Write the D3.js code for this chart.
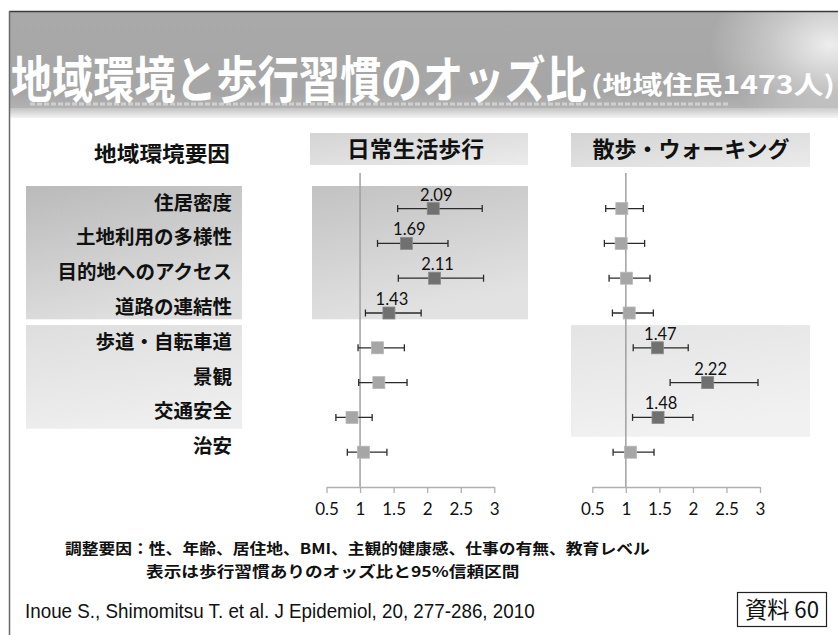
<!DOCTYPE html>
<html>
<head>
<meta charset="utf-8">
<script src="https://cdn.jsdelivr.net/npm/d3@7"></script>
<style>
  html, body { margin: 0; padding: 0; background: #fff; }
  svg { display: block; }
</style>
</head>
<body>
<svg id="chart" width="838" height="635"></svg>
<script>
// Environmental factors (rows, top to bottom)
const factors = ["住居密度", "土地利用の多様性", "目的地へのアクセス", "道路の連結性",
                 "歩道・自転車道", "景観", "交通安全", "治安"];

// Daily-life walking: odds ratio and 95% CI
const dailyOR = [2.09, 1.69, 2.11, 1.43, 1.26, 1.28, 0.88, 1.05];
const dailyLo = [1.56, 1.26, 1.57, 1.08, 0.97, 0.98, 0.64, 0.81];
const dailyHi = [2.82, 2.31, 2.84, 1.91, 1.66, 1.70, 1.18, 1.40];
const dailySig = [true, true, true, true, false, false, false, false];

// Recreational walking: odds ratio and 95% CI
const walkOR = [0.94, 0.93, 1.01, 1.05, 1.47, 2.22, 1.48, 1.07];
const walkLo = [0.70, 0.68, 0.75, 0.80, 1.11, 1.66, 1.10, 0.81];
const walkHi = [1.26, 1.28, 1.36, 1.41, 1.93, 2.97, 2.00, 1.42];
const walkSig = [false, false, false, false, true, true, true, false];

const tickValues = [0.5, 1, 1.5, 2, 2.5, 3];
const tickLabels = ["0.5", "1", "1.5", "2", "2.5", "3"];

const JP = "'Noto Sans CJK JP', 'Noto Sans CJK SC', sans-serif";
const svg = d3.select("#chart");
const defs = svg.append("defs");

function linGrad(id, x1, y1, x2, y2, stops) {
  const g = defs.append("linearGradient").attr("id", id)
    .attr("x1", x1).attr("y1", y1).attr("x2", x2).attr("y2", y2);
  stops.forEach(s => g.append("stop").attr("offset", s[0]).attr("stop-color", s[1]));
}
linGrad("banner", "0", "0", "0", "1", [["0", "#a9a9a9"], ["0.85", "#a6a6a6"], ["1", "#b2b2b2"]]);
linGrad("bandFade", "0", "0", "0", "1", [["0", "#c2c2c2"], ["1", "#f4f4f4"]]);
linGrad("darkBlock", "0", "0", "0.35", "1", [["0", "#bababa"], ["1", "#dedede"]]);
linGrad("darkBlockR", "0", "0", "0.35", "1", [["0", "#c2c2c2"], ["1", "#e2e2e2"]]);
linGrad("lightBlock", "0", "0", "0.3", "1", [["0", "#dedede"], ["1", "#eeeeee"]]);
linGrad("lightBlockR", "0", "0", "0.3", "1", [["0", "#e4e4e4"], ["1", "#f1f1f1"]]);
linGrad("header", "0", "0", "1", "1", [["0", "#d4d4d4"], ["1", "#ebebeb"]]);
const rg = defs.append("radialGradient").attr("id", "glow")
  .attr("cx", "0.5").attr("cy", "0.5").attr("r", "0.5");
rg.append("stop").attr("offset", "0").attr("stop-color", "#ffffff").attr("stop-opacity", 0.8);
rg.append("stop").attr("offset", "0.5").attr("stop-color", "#ffffff").attr("stop-opacity", 0.35);
rg.append("stop").attr("offset", "1").attr("stop-color", "#ffffff").attr("stop-opacity", 0);

// Text squeezed/stretched horizontally to a given width
function fitText(parent, x, y, anchor, width, size, weight, fill, str, family) {
  const g = parent.append("g");
  const t = g.append("text").attr("x", 0).attr("y", 0)
    .attr("text-anchor", anchor).attr("font-family", family || JP)
    .attr("font-weight", weight).attr("font-size", size).attr("fill", fill).text(str);
  const len = t.node().getComputedTextLength();
  g.attr("transform", `translate(${x},${y}) scale(${width / len},1)`);
  return t;
}

// ---- Title banner ----
svg.append("rect").attr("x", 9).attr("y", 11).attr("width", 829).attr("height", 97)
  .attr("fill", "url(#banner)");
svg.append("rect").attr("x", 9).attr("y", 108).attr("width", 829).attr("height", 10)
  .attr("fill", "url(#bandFade)");
svg.append("ellipse").attr("cx", 830).attr("cy", 45).attr("rx", 120).attr("ry", 85)
  .attr("fill", "url(#glow)");
svg.append("line").attr("x1", 9).attr("x2", 838).attr("y1", 11.5).attr("y2", 11.5)
  .attr("stroke", "#3a3a3a").attr("stroke-width", 1.5);
svg.append("line").attr("x1", 9.5).attr("x2", 9.5).attr("y1", 11).attr("y2", 635)
  .attr("stroke", "#6a6a6a").attr("stroke-width", 1.5);
svg.append("line").attr("x1", 30).attr("x2", 730).attr("y1", 104).attr("y2", 104)
  .attr("stroke", "#d0d0d0").attr("stroke-width", 3).attr("stroke-dasharray", "5,2");

fitText(svg, 11, 98, "start", 576, 50, 700, "#ffffff", "地域環境と歩行習慣のオッズ比");
fitText(svg, 591, 94, "start", 244, 25, 700, "#ffffff", "(地域住民1473人)");

// ---- Scales ----
const y = d3.scaleBand().domain(factors).range([191.2, 469.6]).padding(0);
const yc = d => y(d) + y.bandwidth() / 2;
const xL = d3.scaleLinear().domain([0.5, 3]).range([326.5, 494.3]);
const xR = d3.scaleLinear().domain([0.5, 3]).range([592.3, 760]);

// ---- Shaded groupings ----
const g1Top = yc(factors[0]) - 22.6, g1Bot = yc(factors[3]) + 6.3;
const g2Top = yc(factors[4]) - 22.7, g2Bot = yc(factors[6]) + 11.3, g2BotR = yc(factors[6]) + 19.3;
svg.append("rect").attr("x", 26).attr("y", g1Top).attr("width", 216).attr("height", g1Bot - g1Top)
  .attr("fill", "url(#darkBlock)");
svg.append("rect").attr("x", 26).attr("y", g2Top).attr("width", 216).attr("height", g2Bot - g2Top)
  .attr("fill", "url(#lightBlock)");
svg.append("rect").attr("x", 312).attr("y", g1Top).attr("width", 216).attr("height", g1Bot - g1Top)
  .attr("fill", "url(#darkBlockR)");
svg.append("rect").attr("x", 571).attr("y", g2Top).attr("width", 239).attr("height", g2BotR - g2Top)
  .attr("fill", "url(#lightBlockR)");

// ---- Column headers ----
fitText(svg, 230, 161, "end", 136, 21, 700, "#111", "地域環境要因");

svg.append("rect").attr("x", 310).attr("y", 133).attr("width", 218).attr("height", 32)
  .attr("fill", "url(#header)");
fitText(svg, 415.5, 157, "middle", 137, 22, 700, "#111", "日常生活歩行");

svg.append("rect").attr("x", 571).attr("y", 133).attr("width", 239).attr("height", 34)
  .attr("fill", "url(#header)");
fitText(svg, 691, 157, "middle", 197, 22, 700, "#111", "散歩・ウォーキング");

// ---- Row labels ----
svg.append("g").selectAll("text").data(factors).join("text")
  .attr("x", 232).attr("y", d => yc(d) - 7.5)
  .attr("text-anchor", "end").attr("dominant-baseline", "central")
  .attr("font-family", JP).attr("font-weight", 700).attr("font-size", 19.5)
  .attr("fill", "#111").text(d => d);

// ---- Forest panels ----
function panel(x, or, lo, hi, sig) {
  const g = svg.append("g");
  const axisY = 487;
  // reference line at OR = 1
  g.append("line").attr("x1", x(1)).attr("x2", x(1)).attr("y1", 173).attr("y2", axisY)
    .attr("stroke", "#a0a0a0").attr("stroke-width", 1.5);

  const axis = d3.axisBottom(x).tickValues(tickValues)
    .tickFormat((d, i) => tickLabels[i]).tickSize(6).tickPadding(10).tickSizeOuter(0);
  const ax = g.append("g").attr("transform", `translate(0,${axisY})`).call(axis);
  ax.select(".domain").attr("stroke", "#b0b0b0").attr("stroke-width", 1.3);
  ax.selectAll(".tick line").attr("stroke", "#b0b0b0").attr("stroke-width", 1.3);
  ax.selectAll(".tick text").attr("font-family", "Lato, 'Open Sans', sans-serif")
    .attr("font-size", 17).attr("fill", "#111");

  const rows = factors.map((f, i) => ({ f, or: or[i], lo: lo[i], hi: hi[i], sig: sig[i] }));
  const r = g.selectAll("g.row").data(rows).join("g").attr("class", "row");
  r.append("line").attr("x1", d => x(d.lo)).attr("x2", d => x(d.hi))
    .attr("y1", d => yc(d.f)).attr("y2", d => yc(d.f))
    .attr("stroke", "#2a2a2a").attr("stroke-width", 1.3);
  r.append("line").attr("x1", d => x(d.lo)).attr("x2", d => x(d.lo))
    .attr("y1", d => yc(d.f) - 3.5).attr("y2", d => yc(d.f) + 3.5)
    .attr("stroke", "#2a2a2a").attr("stroke-width", 1.3);
  r.append("line").attr("x1", d => x(d.hi)).attr("x2", d => x(d.hi))
    .attr("y1", d => yc(d.f) - 3.5).attr("y2", d => yc(d.f) + 3.5)
    .attr("stroke", "#2a2a2a").attr("stroke-width", 1.3);
  r.append("rect").attr("x", d => x(d.or) - 6).attr("y", d => yc(d.f) - 6)
    .attr("width", 12).attr("height", 12)
    .attr("fill", d => d.sig ? "#707070" : "#a6a6a6")
    .attr("stroke", d => d.sig ? "#8a8a8a" : "#b8b8b8").attr("stroke-width", 0.8);
  r.filter(d => d.sig).append("text")
    .attr("x", d => x(d.or) + 3).attr("y", d => yc(d.f) - 8)
    .attr("text-anchor", "middle")
    .attr("font-family", "Lato, 'Open Sans', sans-serif").attr("font-size", 16.5)
    .attr("fill", "#111").text(d => d.or.toFixed(2));
}
panel(xL, dailyOR, dailyLo, dailyHi, dailySig);
panel(xR, walkOR, walkLo, walkHi, walkSig);

// ---- Notes ----
fitText(svg, 65, 554, "start", 585, 15, 700, "#111",
  "調整要因：性、年齢、居住地、BMI、主観的健康感、仕事の有無、教育レベル");
fitText(svg, 146, 576.5, "start", 374, 15, 700, "#111",
  "表示は歩行習慣ありのオッズ比と95%信頼区間");
fitText(svg, 25, 618, "start", 510, 21, 400, "#111",
  "Inoue S., Shimomitsu T. et al. J Epidemiol, 20, 277-286, 2010",
  "'Liberation Sans', Arial, sans-serif");

svg.append("rect").attr("x", 737.5).attr("y", 592.5).attr("width", 89).attr("height", 34)
  .attr("fill", "#ffffff").attr("stroke", "#222").attr("stroke-width", 1.2);
fitText(svg, 782, 618, "middle", 74, 23, 400, "#111", "資料 60");
</script>
</body>
</html>
